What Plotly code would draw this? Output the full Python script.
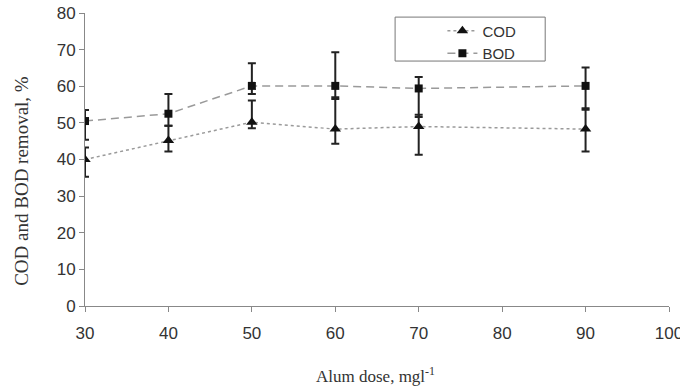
import plotly.graph_objects as go

dose = [30, 40, 50, 60, 70, 90]
cod = [40.0, 45.2, 50.2, 48.3, 49.0, 48.3]
cod_up = [3.3, 4.0, 5.9, 8.2, 3.2, 5.7]
cod_dn = [4.7, 3.0, 1.7, 4.0, 7.7, 6.1]
bod = [50.5, 52.5, 60.1, 60.1, 59.4, 60.1]
bod_up = [3.0, 5.4, 6.2, 9.2, 3.1, 5.0]
bod_dn = [5.1, 3.3, 2.2, 3.1, 7.8, 6.5]

x_ticks = [30, 40, 50, 60, 70, 80, 90, 100]
y_ticks = [0, 10, 20, 30, 40, 50, 60, 70, 80]

serif = "Liberation Serif, Times New Roman, serif"

fig = go.Figure()
fig.add_trace(go.Scatter(
    x=dose, y=cod, name="COD", mode="lines+markers",
    line=dict(color="#9a9a9a", width=1.5, dash="dot"),
    marker=dict(symbol="triangle-up", size=10, color="#111"),
    error_y=dict(type="data", symmetric=False, array=cod_up, arrayminus=cod_dn,
                 color="#222", thickness=2, width=4),
))
fig.add_trace(go.Scatter(
    x=dose, y=bod, name="BOD", mode="lines+markers",
    line=dict(color="#9a9a9a", width=1.5, dash="8px,5px"),
    marker=dict(symbol="square", size=8, color="#111"),
    error_y=dict(type="data", symmetric=False, array=bod_up, arrayminus=bod_dn,
                 color="#222", thickness=2, width=4),
))

fig.add_shape(type="rect", xref="paper", yref="paper",
              x0=0.531, x1=0.788, y0=0.836, y1=0.986,
              line=dict(color="#777", width=1), fillcolor="white", layer="below")

fig.add_annotation(text="COD and BOD removal, %", textangle=-90,
                   xref="paper", yref="paper", x=-0.108, y=0.427,
                   showarrow=False, xanchor="center", yanchor="middle",
                   font=dict(family=serif, size=19, color="#333"))
fig.add_annotation(text="Alum dose, mgl<sup>-1</sup>",
                   xref="paper", yref="paper", x=0.497, y=-0.235,
                   showarrow=False, xanchor="center", yanchor="middle",
                   font=dict(family=serif, size=17, color="#333"))

fig.update_layout(
    width=680, height=391,
    margin=dict(l=85, r=11, t=13, b=85),
    paper_bgcolor="white", plot_bgcolor="white",
    font=dict(family="Liberation Sans, Arial", size=17, color="#333"),
    showlegend=True,
    legend=dict(x=0.612, y=0.995, xanchor="left", yanchor="top",
                bgcolor="rgba(0,0,0,0)", borderwidth=0,
                font=dict(size=15, color="#333"), tracegroupgap=0,
                itemwidth=30),
    xaxis=dict(range=[30, 100], tickvals=x_ticks, showgrid=False, zeroline=False,
               showline=True, linecolor="#888", linewidth=1, automargin=False,
               ticks="outside", ticklen=5, tickcolor="#888",
               ticklabeloverflow="allow", ticklabelstandoff=7),
    yaxis=dict(range=[0, 80], tickvals=y_ticks, showgrid=False, zeroline=False,
               showline=True, linecolor="#888", linewidth=1, automargin=False,
               ticks="outside", ticklen=5, tickcolor="#888",
               ticklabeloverflow="allow"),
)

fig.write_html("out.html", config={"displayModeBar": False},
               post_script="document.body.style.margin='0';")
